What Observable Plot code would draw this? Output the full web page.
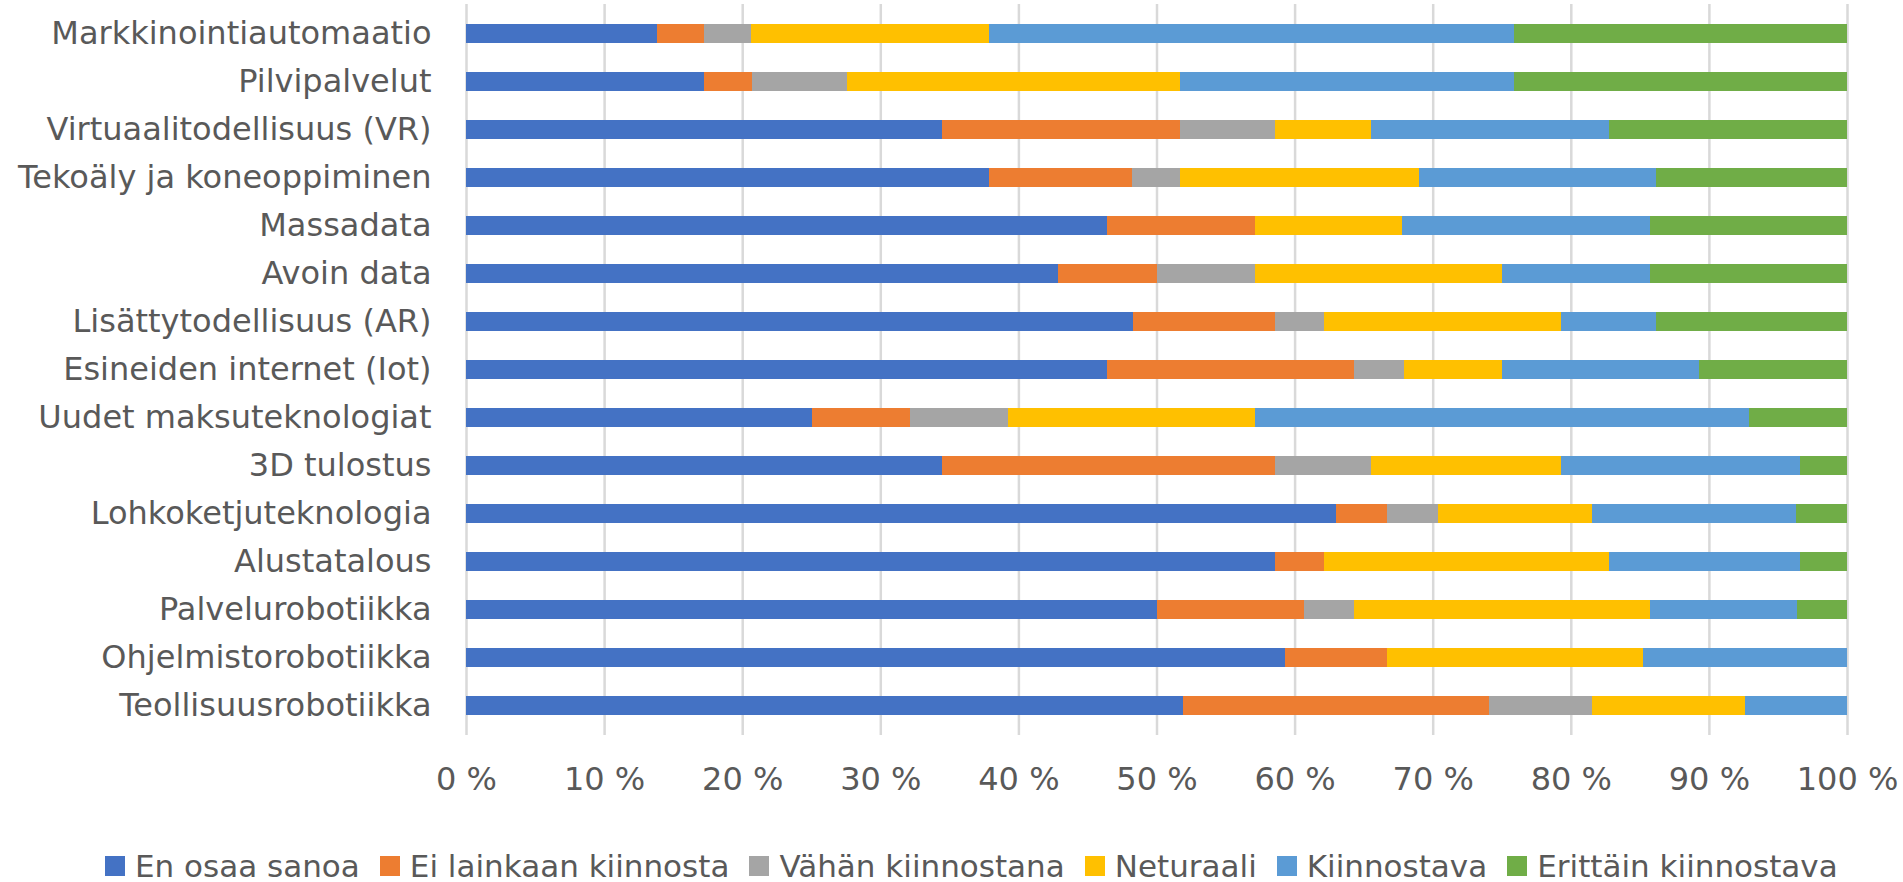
<!DOCTYPE html>
<html>
<head>
<meta charset="utf-8">
<script src="https://cdn.jsdelivr.net/npm/d3@7"></script>
<script src="https://cdn.jsdelivr.net/npm/@observablehq/plot@0.6"></script>
<style>
  html, body { margin: 0; padding: 0; background: #ffffff; }
  body { font-family: "DejaVu Sans", sans-serif; }
  #chart svg { display: block; }
  #legend { display: flex; align-items: center; height: 40px; margin-top: 36px; padding-left: 105px;
            font-size: 31px; color: #595959; white-space: nowrap; font-family: "DejaVu Sans", sans-serif; }
  .item { display: flex; align-items: center; margin-right: 20px; }
  .sw { width: 20px; height: 20px; margin-right: 10px; flex: none; }
</style>
</head>
<body>
<div id="chart"></div>
<div id="legend"></div>
<script>
// Categories, top to bottom
const categories = [
  "Markkinointiautomaatio",
  "Pilvipalvelut",
  "Virtuaalitodellisuus (VR)",
  "Tekoäly ja koneoppiminen",
  "Massadata",
  "Avoin data",
  "Lisättytodellisuus (AR)",
  "Esineiden internet (Iot)",
  "Uudet maksuteknologiat",
  "3D tulostus",
  "Lohkoketjuteknologia",
  "Alustatalous",
  "Palvelurobotiikka",
  "Ohjelmistorobotiikka",
  "Teollisuusrobotiikka"
];

// Series names (stack order, left to right)
const series = [
  "En osaa sanoa",
  "Ei lainkaan kiinnosta",
  "Vähän kiinnostana",
  "Neturaali",
  "Kiinnostava",
  "Erittäin kiinnostava"
];

const seriesColors = ["#4472C4", "#ED7D31", "#A5A5A5", "#FFC000", "#5B9BD5", "#70AD47"];

// Shares (%) per category, same order as categories
const enOsaaSanoa        = [13.8, 17.2, 34.5, 37.9, 46.4, 42.9, 48.3, 46.4, 25.0, 34.5, 63.0, 58.6, 50.0, 59.3, 51.9];
const eiLainkaan         = [ 3.4,  3.5, 17.2, 10.3, 10.7,  7.1, 10.3, 17.9,  7.1, 24.1,  3.7,  3.5, 10.7,  7.4, 22.2];
const vahanKiinnostana   = [ 3.4,  6.9,  6.9,  3.5,  0.0,  7.1,  3.5,  3.6,  7.1,  6.9,  3.7,  0.0,  3.6,  0.0,  7.4];
const neutraali          = [17.2, 24.1,  6.9, 17.3, 10.7, 17.9, 17.2,  7.1, 17.9, 13.8, 11.1, 20.7, 21.4, 18.5, 11.1];
const kiinnostava        = [37.9, 24.2, 17.3, 17.2, 17.9, 10.7,  6.9, 14.3, 35.7, 17.3, 14.8, 13.8, 10.7, 14.8,  7.4];
const erittainKiinnostava= [24.1, 24.1, 17.2, 13.8, 14.3, 14.3, 13.8, 10.7,  7.1,  3.4,  3.7,  3.4,  3.6,  0.0,  0.0];

const xTicks = [0, 0.1, 0.2, 0.3, 0.4, 0.5, 0.6, 0.7, 0.8, 0.9, 1.0];

const seriesValues = [enOsaaSanoa, eiLainkaan, vahanKiinnostana, neutraali, kiinnostava, erittainKiinnostava];
const data = [];
categories.forEach((c, i) => {
  series.forEach((s, j) => {
    data.push({category: c, series: s, value: seriesValues[j][i]});
  });
});

const chart = Plot.plot({
  width: 1903,
  height: 810,
  marginLeft: 466,
  marginRight: 56,
  marginTop: 4,
  marginBottom: 75,
  style: {fontFamily: "DejaVu Sans, sans-serif", fontSize: "32px", color: "#595959", background: "#ffffff"},
  x: {domain: [0, 1]},
  y: {domain: categories, paddingInner: 0.6, paddingOuter: 0.3},
  color: {domain: series, range: seriesColors},
  marks: [
    Plot.ruleX(xTicks, {x: d => d, stroke: "#d9d9d9", strokeWidth: 2.5}),
    Plot.barX(data, Plot.stackX({
      x: "value",
      y: "category",
      fill: "series",
      order: series,
      offset: "normalize",
      inset: 0,
      shapeRendering: "crispEdges"
    })),
    Plot.axisX({ticks: xTicks, tickFormat: d => `${Math.round(d * 100)} %`, tickSize: 0, tickPadding: 32, label: null, fontSize: 32}),
    Plot.axisY({tickSize: 0, tickPadding: 35, label: null, fontSize: 32})
  ]
});
document.getElementById("chart").appendChild(chart);

const legend = document.getElementById("legend");
series.forEach((s, j) => {
  const item = document.createElement("div");
  item.className = "item";
  const sw = document.createElement("span");
  sw.className = "sw";
  sw.style.background = seriesColors[j];
  const t = document.createElement("span");
  t.textContent = s;
  item.appendChild(sw);
  item.appendChild(t);
  legend.appendChild(item);
});
</script>
</body>
</html>
